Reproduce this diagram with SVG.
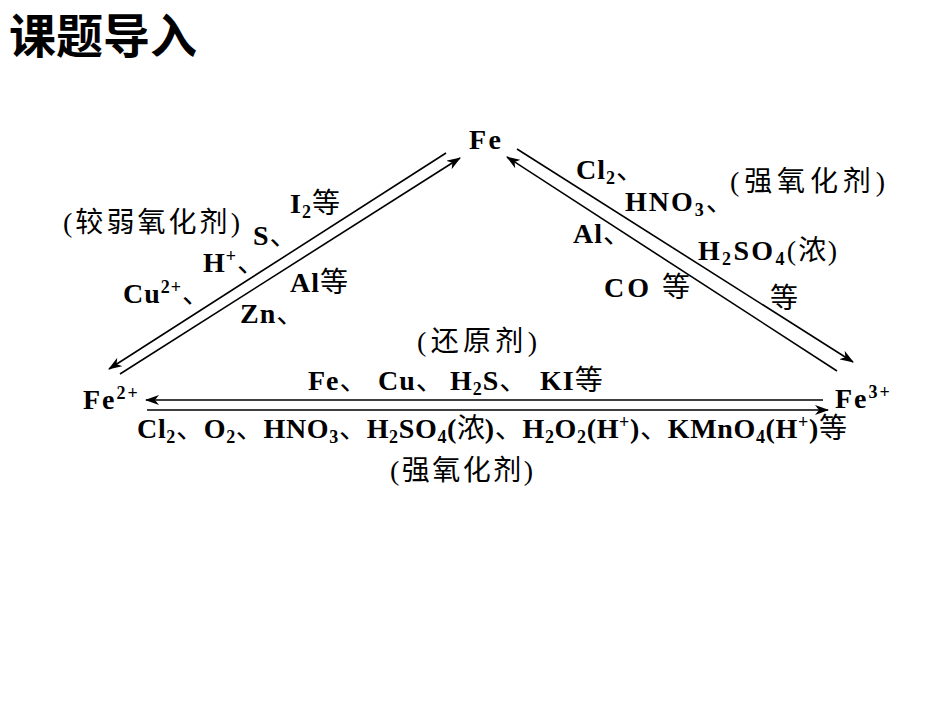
<svg xmlns="http://www.w3.org/2000/svg" width="950" height="713" viewBox="0 0 950 713">
<defs>
<style>
.l{font-family:"Liberation Serif","Noto Sans CJK SC",serif;font-weight:bold;font-size:28px;fill:#000;letter-spacing:1px}
.c{font-family:"Noto Sans CJK SC",sans-serif;font-weight:normal;font-size:28px;letter-spacing:0}
.cc{font-family:"Noto Sans CJK SC",sans-serif;font-weight:normal;font-size:28px;fill:#000}
.p{font-family:"Liberation Serif",serif;font-weight:normal}
.sb{font-size:18px}
.sp{font-size:18px}
.title{font-family:"Noto Sans CJK SC",sans-serif;font-weight:bold;font-size:47px;fill:#000}
.ln{stroke:#000;stroke-width:1.6;fill:none}
</style>
<marker id="ah" viewBox="0 0 14 10" refX="13" refY="5" markerWidth="14" markerHeight="10" orient="auto" markerUnits="userSpaceOnUse">
<path d="M0,0 L14,5 L0,10 L4,5 Z" fill="#000"/>
</marker>
</defs>
<rect width="950" height="713" fill="#fff"/>
<text class="title" x="9" y="53">课题导入</text>

<g id="connectors">
<line class="ln" x1="446" y1="153" x2="109" y2="369" marker-end="url(#ah)"/>
<line class="ln" x1="120" y1="374" x2="460" y2="158" marker-end="url(#ah)"/>
<line class="ln" x1="517" y1="149" x2="853" y2="362" marker-end="url(#ah)"/>
<line class="ln" x1="837" y1="371" x2="507" y2="157" marker-end="url(#ah)"/>
<line class="ln" x1="823" y1="400" x2="146" y2="400" marker-end="url(#ah)"/>
<line class="ln" x1="147" y1="410" x2="828" y2="410" marker-end="url(#ah)"/>
</g>

<g id="node-fe">
<text class="l" x="469" y="149" textLength="33" lengthAdjust="spacing">Fe</text>
</g>
<g id="node-fe2">
<text class="l" x="83" y="409" style="letter-spacing:2px">Fe<tspan class="sp" dy="-10">2+</tspan></text>
</g>
<g id="node-fe3">
<text class="l" x="835" y="408" style="letter-spacing:2px">Fe<tspan class="sp" dy="-10">3+</tspan></text>
</g>

<g id="label-left">
<text class="cc" x="63" y="232" textLength="177" lengthAdjust="spacing"><tspan class="p">(</tspan>较弱氧化剂<tspan class="p">)</tspan></text>
<text class="l" x="290" y="213">I<tspan class="sb" dy="5">2</tspan><tspan class="c" dy="-5">等</tspan></text>
<text class="l" x="253" y="245">S<tspan class="c">、</tspan></text>
<text class="l" x="203" y="272">H<tspan class="sp" dy="-10">+</tspan><tspan class="c" dy="10">、</tspan></text>
<text class="l" x="123" y="303">Cu<tspan class="sp" dy="-10">2+</tspan><tspan class="c" dy="10">、</tspan></text>
<text class="l" x="290" y="292">Al<tspan class="c">等</tspan></text>
<text class="l" x="240" y="323">Zn<tspan class="c">、</tspan></text>
</g>

<g id="label-right">
<text class="l" x="576" y="179">Cl<tspan class="sb" dy="5">2</tspan><tspan class="c" dy="-5">、</tspan></text>
<text class="cc" x="730" y="191" textLength="155" lengthAdjust="spacing"><tspan class="p">(</tspan>强氧化剂<tspan class="p">)</tspan></text>
<text class="l" x="625" y="211" style="letter-spacing:2px">HNO<tspan class="sb" dy="5">3</tspan><tspan class="c" dy="-5">、</tspan></text>
<text class="l" x="573" y="243">Al<tspan class="c">、</tspan></text>
<text class="l" x="698" y="260" textLength="140" lengthAdjust="spacing">H<tspan class="sb" dy="5">2</tspan><tspan dy="-5">SO</tspan><tspan class="sb" dy="5">4</tspan><tspan dy="-5" class="p">(</tspan><tspan class="c">浓</tspan><tspan class="p">)</tspan></text>
<text class="l" x="604" y="297" textLength="86" lengthAdjust="spacing">CO <tspan class="c">等</tspan></text>
<text class="cc" x="770" y="308">等</text>
</g>

<g id="label-bottom">
<text class="cc" x="417" y="351" textLength="120" lengthAdjust="spacing"><tspan class="p">(</tspan>还原剂<tspan class="p">)</tspan></text>
<text class="l" x="308" y="390">Fe<tspan class="c">、</tspan><tspan x="378">Cu</tspan><tspan class="c">、</tspan><tspan x="450">H</tspan><tspan class="sb" dy="5">2</tspan><tspan dy="-5">S</tspan><tspan class="c">、</tspan><tspan x="540">KI</tspan><tspan class="c">等</tspan></text>
<text class="l" x="137" y="438" textLength="710" lengthAdjust="spacing">Cl<tspan class="sb" dy="5">2</tspan><tspan class="c" dy="-5">、</tspan>O<tspan class="sb" dy="5">2</tspan><tspan class="c" dy="-5">、</tspan>HNO<tspan class="sb" dy="5">3</tspan><tspan class="c" dy="-5">、</tspan>H<tspan class="sb" dy="5">2</tspan><tspan dy="-5">SO</tspan><tspan class="sb" dy="5">4</tspan><tspan dy="-5">(</tspan><tspan class="c">浓</tspan>)<tspan class="c">、</tspan>H<tspan class="sb" dy="5">2</tspan><tspan dy="-5">O</tspan><tspan class="sb" dy="5">2</tspan><tspan dy="-5">(H</tspan><tspan class="sp" dy="-10">+</tspan><tspan dy="10">)</tspan><tspan class="c">、</tspan>KMnO<tspan class="sb" dy="5">4</tspan><tspan dy="-5">(H</tspan><tspan class="sp" dy="-10">+</tspan><tspan dy="10">)</tspan><tspan class="c">等</tspan></text>
<text class="cc" x="390" y="480" textLength="143" lengthAdjust="spacing"><tspan class="p">(</tspan>强氧化剂<tspan class="p">)</tspan></text>
</g>
</svg>
